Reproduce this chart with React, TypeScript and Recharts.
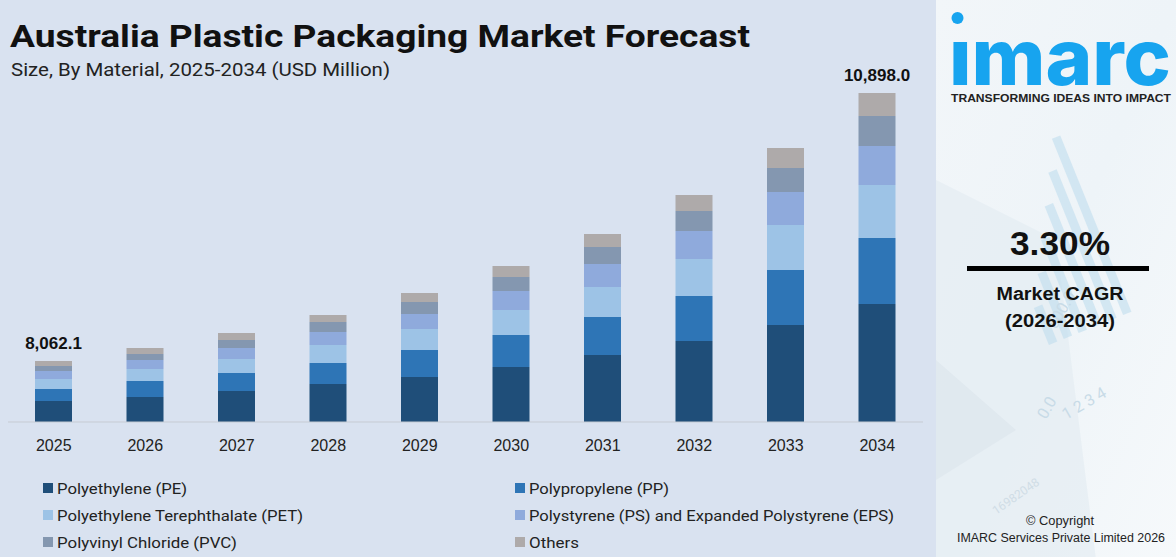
import React from 'react';
import { BarChart, Bar, XAxis, YAxis, Legend, LabelList } from 'recharts';

// Values (stack segment heights, relative units)
const years = ['2025', '2026', '2027', '2028', '2029', '2030', '2031', '2032', '2033', '2034'];
const pe = [21, 25, 31, 38, 45, 55, 67, 81, 97, 118];
const pp = [12, 16, 18, 21, 27, 32, 38, 45, 55, 66];
const pet = [10, 12, 14, 18, 21, 25, 30, 37, 45, 53];
const ps = [8, 9, 11, 13, 15, 19, 23, 28, 33, 39];
const pvc = [5, 6, 8, 10, 12, 14, 17, 20, 24, 30];
const others = [5, 6, 7, 7, 9, 11, 13, 16, 20, 23];
const totalLabels = ['8,062.1', '', '', '', '', '', '', '', '', '10,898.0'];

const seriesKeys = ['pe', 'pp', 'pet', 'ps', 'pvc', 'others'];
const seriesNames = [
  'Polyethylene (PE)',
  'Polypropylene (PP)',
  'Polyethylene Terephthalate (PET)',
  'Polystyrene (PS) and Expanded Polystyrene (EPS)',
  'Polyvinyl Chloride (PVC)',
  'Others',
];
const seriesColors = ['#1f4e79', '#2e75b6', '#9dc3e6', '#8faadc', '#8497b0', '#aeaaaa'];
const legendTextWidths = [130, 140, 246, 365, 180, 50];

const data = years.map((y, i) => ({
  year: y,
  pe: pe[i],
  pp: pp[i],
  pet: pet[i],
  ps: ps[i],
  pvc: pvc[i],
  others: others[i],
  label: totalLabels[i],
}));
const maxTotal = Math.max(...data.map((d) => d.pe + d.pp + d.pet + d.ps + d.pvc + d.others));

const BG = '#d9e2f0';

const renderTotalLabel = (props: any) => {
  const { x, y, width, value } = props;
  if (!value) return null;
  return (
    <text
      x={Number(x) + Number(width) / 2}
      y={Number(y) - 12}
      textAnchor="middle"
      fontFamily="'Liberation Sans', Arial, sans-serif"
      fontWeight={700}
      fontSize={17}
      fill="#111"
    >
      {value}
    </text>
  );
};

const renderLegend = () => {
  const colX = [43, 515];
  const rowY = [20, 47, 74];
  return (
    <svg width={936} height={90} style={{ display: 'block' }}>
      {seriesNames.map((name, i) => {
        const cx = colX[i % 2];
        const cy = rowY[Math.floor(i / 2)];
        return (
          <g key={name}>
            <rect x={cx} y={cy - 5} width={10} height={10} fill={seriesColors[i]} />
            <text
              x={cx + 14}
              y={cy + 5.5}
              fontFamily="Roboto, 'Noto Sans', sans-serif"
              fontSize={15}
              fill="#222"
              textLength={legendTextWidths[i]}
              lengthAdjust="spacingAndGlyphs"
            >
              {name}
            </text>
          </g>
        );
      })}
    </svg>
  );
};

const RightPanel = () => (
  <svg width={240} height={557} style={{ position: 'absolute', left: 936, top: 0 }}>
    <defs>
      <linearGradient id="rpbg" x1="0" y1="0" x2="1" y2="1">
        <stop offset="0" stopColor="#f2f6f9" />
        <stop offset="0.5" stopColor="#eef4f8" />
        <stop offset="1" stopColor="#f6f9fb" />
      </linearGradient>
    </defs>
    <rect x={0} y={0} width={240} height={557} fill="url(#rpbg)" />
    {/* faint decorative shapes */}
    <path d="M0 180 L120 240 L160 560 L0 560 Z" fill="#e4ecf2" opacity={0.7} />
    <path d="M0 360 L80 430 L0 480 Z" fill="#dfe7ee" opacity={0.8} />
    <g transform="translate(150,330) rotate(-22)" opacity={0.55}>
      {[40, 70, 100, 130, 160, 190].map((h, i) => (
        <rect key={i} x={i * 16 - 40} y={-h} width={9} height={h} fill="#bcdcee" />
      ))}
    </g>
    <text x={120} y={330} fontFamily="Roboto, sans-serif" fontSize={16} fill="#c8dbe7" transform="rotate(-60 120 330)">500.0</text>
    <text x={110} y={420} fontFamily="Roboto, sans-serif" fontSize={16} fill="#c8dbe7" transform="rotate(-60 110 420)">0.0</text>
    <text x={130} y={420} fontFamily="Roboto, sans-serif" fontSize={16} fill="#c8dbe7" transform="rotate(-30 130 420)">1 2 3 4</text>
    <text x={60} y={515} fontFamily="Roboto, sans-serif" fontSize={12} fill="#d0dde6" transform="rotate(-35 60 515)">16982048</text>

    {/* logo */}
    <circle cx={21.5} cy={18} r={6} fill="#17a4ef" />
    <text
      x={13}
      y={85}
      fontFamily="Inter, 'Open Sans', sans-serif"
      fontWeight={800}
      fontSize={78}
      fill="#17a4ef"
      textLength={222}
      lengthAdjust="spacingAndGlyphs"
    >
      ımarc
    </text>
    <text
      x={15}
      y={102}
      fontFamily="'Liberation Sans', Arial, sans-serif"
      fontWeight={700}
      fontSize={11.5}
      fill="#222"
      textLength={220}
      lengthAdjust="spacingAndGlyphs"
    >
      TRANSFORMING IDEAS INTO IMPACT
    </text>

    {/* CAGR */}
    <text
      x={124}
      y={255}
      textAnchor="middle"
      fontFamily="'Liberation Sans', Arial, sans-serif"
      fontWeight={700}
      fontSize={33}
      fill="#111"
      textLength={100}
      lengthAdjust="spacingAndGlyphs"
    >
      3.30%
    </text>
    <rect x={31} y={266} width={182} height={5} fill="#000" />
    <text
      x={124}
      y={300}
      textAnchor="middle"
      fontFamily="'Liberation Sans', Arial, sans-serif"
      fontWeight={700}
      fontSize={18}
      fill="#111"
      textLength={127}
      lengthAdjust="spacingAndGlyphs"
    >
      Market CAGR
    </text>
    <text
      x={124}
      y={327}
      textAnchor="middle"
      fontFamily="'Liberation Sans', Arial, sans-serif"
      fontWeight={700}
      fontSize={18}
      fill="#111"
      textLength={110}
      lengthAdjust="spacingAndGlyphs"
    >
      (2026-2034)
    </text>

    {/* copyright */}
    <text
      x={124}
      y={525}
      textAnchor="middle"
      fontFamily="'Liberation Sans', Arial, sans-serif"
      fontSize={12.5}
      fill="#222"
      textLength={68}
      lengthAdjust="spacingAndGlyphs"
    >
      © Copyright
    </text>
    <text
      x={125}
      y={542}
      textAnchor="middle"
      fontFamily="'Liberation Sans', Arial, sans-serif"
      fontSize={12.5}
      fill="#222"
      textLength={208}
      lengthAdjust="spacingAndGlyphs"
    >
      IMARC Services Private Limited 2026
    </text>
  </svg>
);

export default function App() {
  return (
    <div
      style={{
        position: 'absolute',
        left: 0,
        top: 0,
        width: 1176,
        height: 557,
        background: BG,
        overflow: 'hidden',
      }}
    >
      <div style={{ position: 'absolute', left: 0, top: 0, width: 936, height: 557 }}>
        <BarChart
          width={936}
          height={557}
          data={data}
          margin={{ top: 93, right: 13, bottom: 105, left: 8 }}
        >
          <XAxis
            dataKey="year"
            height={30}
            axisLine={{ stroke: '#c6cbd3', strokeWidth: 1 }}
            tickLine={false}
            tickSize={0}
            tickMargin={18}
            tick={{ fontFamily: "'Liberation Sans', Arial, sans-serif", fontSize: 16, fill: '#222' }}
          />
          <YAxis hide type="number" domain={[0, maxTotal]} allowDataOverflow />
          <Legend
            layout="horizontal"
            verticalAlign="middle"
            align="center"
            wrapperStyle={{ left: 0, top: 468, width: 936, height: 90 }}
            content={renderLegend}
          />
          {seriesKeys.map((k, i) => (
            <Bar
              key={k}
              dataKey={k}
              name={seriesNames[i]}
              stackId="a"
              fill={seriesColors[i]}
              barSize={37}
              isAnimationActive={false}
            >
              {k === 'others' ? (
                <LabelList dataKey="label" content={renderTotalLabel} />
              ) : null}
            </Bar>
          ))}
        </BarChart>
      </div>
      <svg width={936} height={100} style={{ position: 'absolute', left: 0, top: 0 }}>
        <text
          x={10}
          y={47}
          fontFamily="Roboto, 'Noto Sans', sans-serif"
          fontWeight={700}
          fontSize={31}
          fill="#111"
          textLength={740}
          lengthAdjust="spacingAndGlyphs"
        >
          Australia Plastic Packaging Market Forecast
        </text>
        <text
          x={11}
          y={76}
          fontFamily="Roboto, 'Noto Sans', sans-serif"
          fontSize={18}
          fill="#222"
          textLength={379}
          lengthAdjust="spacingAndGlyphs"
        >
          Size, By Material, 2025-2034 (USD Million)
        </text>
      </svg>
      <RightPanel />
    </div>
  );
}
